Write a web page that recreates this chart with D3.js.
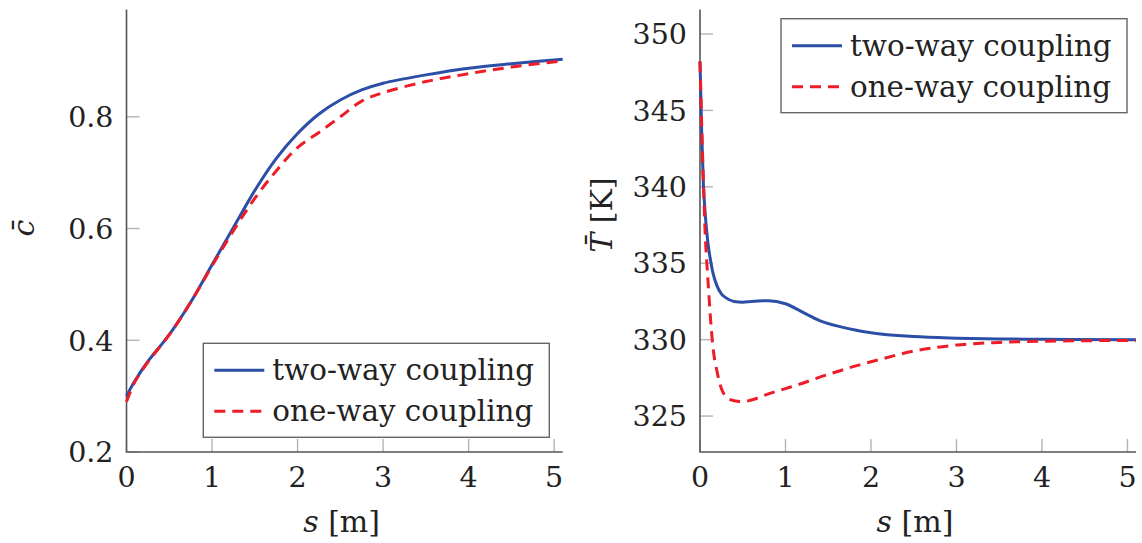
<!DOCTYPE html>
<html>
<head>
<meta charset="utf-8">
<script src="https://cdn.jsdelivr.net/npm/d3@7"></script>
<style>
  body { margin: 0; background: #fff; }
  text { font-family: "DejaVu Serif", serif; fill: #222; }
</style>
</head>
<body>
<svg id="chart" width="1142" height="543"></svg>
<script>
// left panel: mean progress variable along s
var cS = [0, 0.1, 0.25, 0.5, 0.75, 1.0, 1.25, 1.5, 1.75, 2.0, 2.25, 2.5, 2.75, 3.0, 3.5, 4.0, 4.5, 5.1];
var cTwoWay = [0.30, 0.328, 0.362, 0.41, 0.468, 0.535, 0.602, 0.668, 0.725, 0.77, 0.805, 0.83, 0.848, 0.86, 0.875, 0.887, 0.895, 0.903];
var cOneWay = [0.29, 0.326, 0.361, 0.41, 0.468, 0.533, 0.596, 0.654, 0.703, 0.745, 0.772, 0.80, 0.828, 0.843, 0.863, 0.877, 0.889, 0.90];

// right panel: mean temperature along s
var tS = [0, 0.02, 0.04, 0.06, 0.08, 0.1, 0.12, 0.15, 0.2, 0.25, 0.3, 0.4, 0.5, 0.6, 0.8, 1.0, 1.2, 1.4, 1.6, 1.8, 2.0, 2.5, 3.0, 3.5, 4.0, 5.1];
var tTwoWay = [348.2, 343.5, 340.1, 338.3, 337.0, 336.0, 335.3, 334.4, 333.5, 333.0, 332.75, 332.5, 332.45, 332.5, 332.55, 332.35, 331.8, 331.25, 330.9, 330.65, 330.45, 330.2, 330.1, 330.05, 330.02, 330.0];
var tOneWay = [348.2, 344.0, 340.3, 337.0, 335.0, 333.3, 331.6, 329.6, 327.9, 326.8, 326.3, 326.0, 325.95, 326.05, 326.45, 326.8, 327.15, 327.55, 327.9, 328.25, 328.55, 329.25, 329.65, 329.82, 329.9, 329.95];

var xTicks = [0, 1, 2, 3, 4, 5];
var cTicks = [0.2, 0.4, 0.6, 0.8];
var tTicks = [325, 330, 335, 340, 345, 350];
var seriesNames = ["two-way coupling", "one-way coupling"];

var blue = "#2b4ea6", red = "#ee1c26";
var svg = d3.select("#chart");

function panel(opt) {
  var x = d3.scaleLinear().domain([0, 5.1]).range([opt.left, opt.right]);
  var y = d3.scaleLinear().domain(opt.yDomain).range([452, 9.5]);
  var g = svg.append("g");

  // ticks (inward, light grey)
  g.selectAll(".xt").data(xTicks).enter().append("line")
    .attr("x1", d => x(d)).attr("x2", d => x(d))
    .attr("y1", 452).attr("y2", 439)
    .attr("stroke", "#b4b4b4").attr("stroke-width", 1.4);
  g.selectAll(".yt").data(opt.yTicks).enter().append("line")
    .attr("x1", opt.left).attr("x2", opt.left + 13)
    .attr("y1", d => y(d)).attr("y2", d => y(d))
    .attr("stroke", "#b4b4b4").attr("stroke-width", 1.4);

  // axis lines
  g.append("path")
    .attr("d", "M" + opt.left + ",9.5V452H" + opt.right)
    .attr("fill", "none").attr("stroke", "#555").attr("stroke-width", 1.6);

  // tick labels
  g.selectAll(".xl").data(xTicks).enter().append("text")
    .attr("x", d => x(d)).attr("y", 487)
    .attr("text-anchor", "middle").attr("font-size", 28.5)
    .text(d => d);
  g.selectAll(".yl").data(opt.yTicks).enter().append("text")
    .attr("x", opt.left - 13).attr("y", d => y(d)).attr("dy", "0.36em")
    .attr("text-anchor", "end").attr("font-size", 28.5)
    .text(opt.fmt);

  // curves
  var line = d3.line().curve(opt.curve)
    .x(d => x(d[0])).y(d => y(d[1]));
  var one = opt.s.map((s, i) => [s, opt.oneWay[i]]);
  var two = opt.s.map((s, i) => [s, opt.twoWay[i]]);
  g.append("path").attr("d", line(two))
    .attr("fill", "none").attr("stroke", blue).attr("stroke-width", 3);
  g.append("path").attr("d", line(one))
    .attr("fill", "none").attr("stroke", red).attr("stroke-width", 3)
    .attr("stroke-dasharray", "11,7");

  // axis labels
  var xl = g.append("text")
    .attr("x", (opt.left + opt.right) / 2 - 3).attr("y", 532)
    .attr("text-anchor", "middle").attr("font-size", 30).attr("fill", "#444");
  xl.append("tspan").attr("font-style", "italic").text("s");
  xl.append("tspan").text(" [m]");

  var yl = g.append("text")
    .attr("transform", "translate(" + opt.yLabelX + "," + opt.yLabelY + ") rotate(-90)")
    .attr("text-anchor", "middle").attr("font-size", 30).attr("fill", "#444");
  yl.append("tspan").attr("font-style", "italic").text(opt.yLabel[0]);
  if (opt.yLabel[1]) yl.append("tspan").text(opt.yLabel[1]);

  // legend
  var lg = g.append("g").attr("transform", "translate(" + opt.legend[0] + "," + opt.legend[1] + ")");
  lg.append("rect").attr("width", opt.legend[2]).attr("height", 94)
    .attr("fill", "#fff").attr("stroke", "#666").attr("stroke-width", 1.4);
  seriesNames.forEach(function(name, i) {
    var yy = 27 + i * 41;
    lg.append("line").attr("x1", 11).attr("x2", 61).attr("y1", yy).attr("y2", yy)
      .attr("stroke", i === 0 ? blue : red).attr("stroke-width", 3)
      .attr("stroke-dasharray", i === 0 ? null : "11,7");
    lg.append("text").attr("x", 69).attr("y", yy + 10)
      .attr("font-size", 29.4).text(name);
  });
}

panel({
  left: 126.5, right: 562.7, yDomain: [0.2, 0.992], yTicks: cTicks,
  fmt: d3.format(".1f"), s: cS, twoWay: cTwoWay, oneWay: cOneWay,
  curve: d3.curveCatmullRom.alpha(0.5),
  yLabel: ["c\u0304"], yLabelX: 34, yLabelY: 228, legend: [203.3, 343.3, 346]
});
panel({
  left: 700, right: 1136, yDomain: [322.65, 351.6], yTicks: tTicks,
  fmt: d => d, s: tS, twoWay: tTwoWay, oneWay: tOneWay,
  curve: d3.curveMonotoneX,
  yLabel: ["T\u0304", " [K]"], yLabelX: 612, yLabelY: 215, legend: [781, 18.7, 346]
});
</script>
</body>
</html>
